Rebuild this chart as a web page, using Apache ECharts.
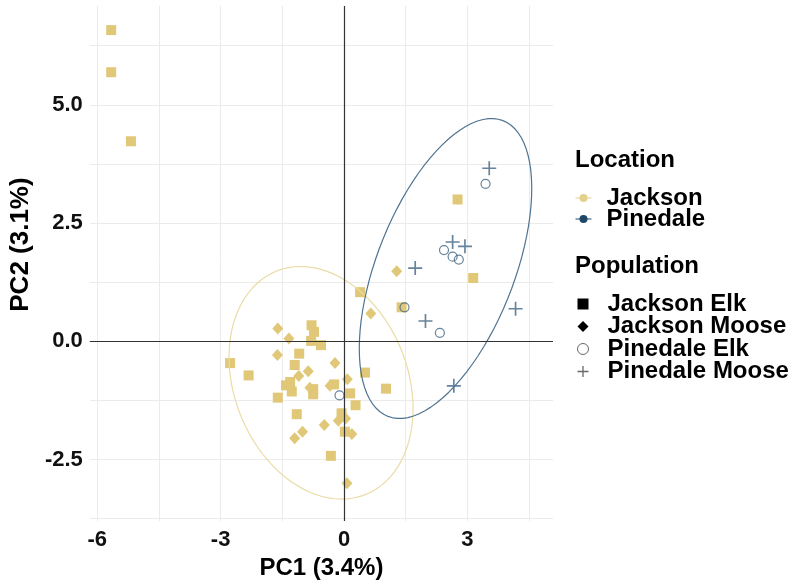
<!DOCTYPE html>
<html><head><meta charset="utf-8">
<script src="https://cdn.jsdelivr.net/npm/echarts@6/dist/echarts.min.js"></script>
<style>html,body{margin:0;padding:0;background:#fff}#c{width:798px;height:585px}</style>
</head><body><div id="c"></div>
<script>
// ---- data ----
const jacksonElk = [[-5.66,6.58],[-5.66,5.69],[-5.18,4.23],[0.39,1.04],[1.40,0.72],[-0.79,0.34],[-0.73,0.20],[-0.80,0.01],[-0.56,-0.08],[-2.77,-0.46],[-1.09,-0.26],[-1.20,-0.50],[-2.32,-0.72],[-1.41,-0.93],[-1.31,-0.86],[-1.27,-1.06],[-1.61,-1.19],[-0.75,-1.01],[-0.75,-1.12],[-0.24,-0.91],[0.15,-1.10],[0.28,-1.35],[0.51,-0.66],[1.02,-1.00],[-1.15,-1.54],[-0.06,-1.52],[0.02,-1.91],[-0.32,-2.42],[2.76,3.00],[3.14,1.34]];
const jacksonMoose = [[1.28,1.48],[0.65,0.59],[-1.61,0.27],[-1.34,0.06],[-1.62,-0.29],[-0.22,-0.46],[-0.87,-0.63],[-1.10,-0.73],[-0.83,-0.98],[-0.34,-0.94],[0.08,-0.80],[-0.14,-1.68],[0.04,-1.63],[-0.48,-1.77],[-1.01,-1.91],[-1.20,-2.05],[0.19,-1.96],[0.07,-3.00]];
const pinedaleElk = [[3.44,3.33],[2.43,1.93],[2.64,1.79],[2.79,1.73],[1.47,0.72],[2.33,0.18],[-0.11,-1.14]];
const pinedaleMoose = [[3.53,3.66],[2.64,2.10],[2.94,2.01],[1.73,1.55],[1.98,0.43],[4.17,0.69],[2.67,-0.94]];
const locations = ['Jackson','Pinedale'];
const populations = ['Jackson Elk','Jackson Moose','Pinedale Elk','Pinedale Moose'];
const xTickLabels = [-6,-3,0,3];
const xGridValues = [-6,-4.5,-3,-1.5,0,1.5,3,4.5];
const yTickLabels = [-2.5,0,2.5,5];
const yGridValues = [-3.75,-2.5,-1.25,0,1.25,2.5,3.75,5,6.25];
// 95% ellipses (centre and two conjugate semi-axes, in data units)
const jacksonEllipseCenter = [-0.559,-0.876];
const jacksonEllipseAxisU = [1.073,-2.365];
const jacksonEllipseAxisV = [1.963,0.671];
const pinedaleEllipseCenter = [2.467,1.540];
const pinedaleEllipseAxisU = [1.397,3.127];
const pinedaleEllipseAxisV = [-1.563,0.526];

function ellipsePath(c,u,v){
  const out=[];
  for(let i=0;i<=90;i++){
    const t=i*2*Math.PI/90, cs=Math.cos(t), sn=Math.sin(t);
    out.push([c[0]+u[0]*cs+v[0]*sn, c[1]+u[1]*cs+v[1]*sn]);
  }
  return out;
}
const jacksonEllipse = ellipsePath(jacksonEllipseCenter,jacksonEllipseAxisU,jacksonEllipseAxisV);
const pinedaleEllipse = ellipsePath(pinedaleEllipseCenter,pinedaleEllipseAxisU,pinedaleEllipseAxisV);

const FONT='Liberation Sans';
const JCOL='#E0C878', PCOL='#3E6483';
const crossPath='path://M4.4,0H5.6V10H4.4Z M0,4.4H10V5.6H0Z';
const textBase={fontFamily:FONT,fontWeight:'bold',color:'#000'};

const chart=echarts.init(document.getElementById('c'),null,{renderer:'canvas'});
chart.setOption({
  animation:false,
  backgroundColor:'#fff',
  grid:{left:89,right:245,top:6,bottom:63,containLabel:false},
  title:[
    {text:'Location',left:575,top:148,padding:0,textStyle:Object.assign({fontSize:24},textBase)},
    {text:'Population',left:575,top:254,padding:0,textStyle:Object.assign({fontSize:24},textBase)}
  ],
  legend:[
    {orient:'vertical',left:575,top:186,padding:0,itemGap:-3,itemWidth:16,itemHeight:10,
     data:[{name:locations[0],itemStyle:{color:'#E3D08C'},lineStyle:{color:'#E3D08C',width:1}},
           {name:locations[1],itemStyle:{color:'#1D4768'},lineStyle:{color:'#1D4768',width:1}}],
     textStyle:Object.assign({fontSize:24,padding:[0,0,0,10]},textBase)},
    {orient:'vertical',left:577,top:292,padding:0,itemGap:-1.5,itemWidth:11,itemHeight:11,
     data:[{name:populations[0],icon:'rect',itemStyle:{color:'#000'}},
           {name:populations[1],icon:'diamond',itemStyle:{color:'#000'}},
           {name:populations[2],icon:'circle',itemStyle:{color:'#fff',borderColor:'#444',borderWidth:1}},
           {name:populations[3],icon:crossPath,itemStyle:{color:'#444',borderWidth:0}}],
     textStyle:Object.assign({fontSize:24,padding:[0,0,0,14]},textBase)}
  ],
  xAxis:{type:'value',min:-6.18,max:5.08,
    axisLine:{show:false},axisTick:{show:false,customValues:xGridValues},
    axisLabel:{customValues:xTickLabels,fontFamily:FONT,fontSize:22,fontWeight:'bold',color:'#111',margin:8},
    splitLine:{show:true,lineStyle:{color:'#ebebeb',width:1}},
    name:'PC1 (3.4%)',nameLocation:'middle',nameGap:32,
    nameTextStyle:Object.assign({fontSize:24},textBase)},
  yAxis:{type:'value',min:-3.8,max:7.09,
    axisLine:{show:false},axisTick:{show:false,customValues:yGridValues},
    axisLabel:{customValues:yTickLabels,formatter:v=>v.toFixed(1),fontFamily:FONT,fontSize:22,fontWeight:'bold',color:'#111',margin:7},
    splitLine:{show:true,lineStyle:{color:'#ebebeb',width:1}},
    name:'PC2 (3.1%)',nameLocation:'middle',nameGap:41,nameRotate:90,
    nameTextStyle:Object.assign({fontSize:26,padding:[0,0,0,38]},textBase)},
  series:[
    {name:populations[0],type:'scatter',data:jacksonElk,symbol:'rect',symbolSize:10,itemStyle:{color:JCOL,opacity:1},z:2},
    {name:populations[1],type:'scatter',data:jacksonMoose,symbol:'diamond',symbolSize:[11,12],itemStyle:{color:JCOL,opacity:1},z:2},
    {name:populations[2],type:'scatter',data:pinedaleElk,symbol:'circle',symbolSize:9,itemStyle:{color:'rgba(0,0,0,0)',borderColor:PCOL,borderWidth:1.2},z:2},
    {name:populations[3],type:'scatter',data:pinedaleMoose,symbol:crossPath,symbolSize:14,itemStyle:{color:PCOL},z:2},
    {name:locations[0],type:'line',data:jacksonEllipse,showSymbol:false,symbol:'circle',lineStyle:{color:'#EADCA6',width:1.2},itemStyle:{color:'#E3D08C'},z:3,silent:true},
    {name:locations[1],type:'line',data:pinedaleEllipse,showSymbol:false,symbol:'circle',lineStyle:{color:'#4F7391',width:1.2},itemStyle:{color:'#1D4768'},z:3,silent:true},
    {name:'zero',type:'scatter',data:[],z:4,silent:true,
      markLine:{silent:true,symbol:'none',label:{show:false},lineStyle:{color:'#333',width:1.2,type:'solid'},emphasis:{disabled:true},
        data:[{xAxis:0},{yAxis:0}]}}
  ]
});
</script></body></html>
